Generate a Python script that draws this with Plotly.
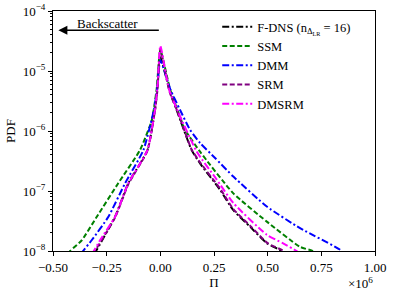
import plotly.graph_objects as go

# Pi values in units of 1e6, PDF values
PI_DNS = [-0.31, -0.30, -0.211, -0.149, -0.06, -0.025, -0.015, 0.0, 0.045, 0.076, 0.146, 0.185, 0.278, 0.34, 0.42, 0.496, 0.565, 0.575]
PDF_DNS = [9.0e-9, 1.0e-8, 3.72e-8, 1.35e-7, 4.79e-7, 2.24e-6, 4.79e-6, 1.70e-5, 4.47e-6, 2.24e-6, 4.79e-7, 2.88e-7, 1.05e-7, 4.79e-8, 2.5e-8, 1.35e-8, 1.0e-8, 9.0e-9]

PI_SSM = [-0.43, -0.42, -0.366, -0.296, -0.196, -0.095, -0.04, -0.017, 0.0, 0.045, 0.09, 0.115, 0.185, 0.34, 0.496, 0.651, 0.71, 0.72]
PDF_SSM = [9.0e-9, 1.0e-8, 1.51e-8, 3.72e-8, 1.35e-7, 4.79e-7, 1.51e-6, 5.01e-6, 2.24e-5, 5.01e-6, 1.78e-6, 1.05e-6, 4.52e-7, 9.12e-8, 3.09e-8, 1.17e-8, 1.0e-8, 9.0e-9]

PI_DMM = [-0.37, -0.36, -0.32, -0.242, -0.164, -0.079, -0.03, -0.015, 0.0, 0.048, 0.092, 0.138, 0.185, 0.255, 0.34, 0.496, 0.651, 0.837, 0.85]
PDF_DMM = [9.0e-9, 1.0e-8, 1.51e-8, 3.72e-8, 1.35e-7, 4.79e-7, 2.24e-6, 5.01e-6, 1.51e-5, 4.79e-6, 2.24e-6, 1.05e-6, 6.31e-7, 3.55e-7, 1.74e-7, 5.5e-8, 2.4e-8, 1.05e-8, 9.0e-9]

PI_SRM = [-0.315, -0.305, -0.211, -0.149, -0.06, -0.025, -0.013, 0.0, 0.043, 0.078, 0.146, 0.185, 0.278, 0.34, 0.42, 0.50, 0.575, 0.585]
PDF_SRM = [9.0e-9, 1.0e-8, 3.6e-8, 1.3e-7, 4.7e-7, 2.2e-6, 5.0e-6, 2.3e-5, 4.5e-6, 2.2e-6, 4.9e-7, 3.0e-7, 1.1e-7, 5.0e-8, 2.6e-8, 1.35e-8, 1.0e-8, 9.0e-9]

PI_DMSRM = [-0.32, -0.31, -0.281, -0.211, -0.149, -0.06, -0.025, -0.012, 0.0, 0.04, 0.085, 0.17, 0.26, 0.34, 0.496, 0.57, 0.635, 0.645]
PDF_DMSRM = [9.0e-9, 1.0e-8, 1.51e-8, 3.72e-8, 1.35e-7, 4.79e-7, 2.24e-6, 6.31e-6, 2.63e-5, 5.01e-6, 2.0e-6, 4.5e-7, 1.6e-7, 6.31e-8, 1.86e-8, 1.35e-8, 1.0e-8, 9.0e-9]

X_TICKS = [-0.5, -0.25, 0.0, 0.25, 0.5, 0.75, 1.0]
X_TICKTEXT = ["\u22120.50", "\u22120.25", "0.00", "0.25", "0.50", "0.75", "1.00"]
Y_TICKS = [1e-8, 1e-7, 1e-6, 1e-5, 1e-4]
Y_TICKTEXT = ["10<sup>\u22128</sup>", "10<sup>\u22127</sup>", "10<sup>\u22126</sup>", "10<sup>\u22125</sup>", "10<sup>\u22124</sup>"]
Y_MINOR = [m * 10.0 ** e for e in range(-8, -4) for m in range(2, 10)]

DASHDOT = "7px,2.5px,2px,2.5px"
DASHED = "5px,2.5px"

series = [
    ("F-DNS (n<sub>\u0394<sub>LR</sub></sub> = 16)", PI_DNS, PDF_DNS, "black", DASHDOT),
    ("SSM", PI_SSM, PDF_SSM, "#008000", DASHED),
    ("DMM", PI_DMM, PDF_DMM, "#0000ff", DASHDOT),
    ("SRM", PI_SRM, PDF_SRM, "#800080", DASHED),
    ("DMSRM", PI_DMSRM, PDF_DMSRM, "#ff00ff", DASHDOT),
]

fig = go.Figure()
for name, xs, ys, col, dash in series:
    fig.add_trace(go.Scatter(x=xs, y=ys, mode="lines", name=name,
                             line=dict(color=col, width=2, dash=dash,
                                       shape="spline", smoothing=0.5)))

FONT = "Liberation Serif"
FS = 13
fig.update_layout(
    width=393, height=291,
    margin=dict(l=53, r=18, t=11, b=40),
    paper_bgcolor="white", plot_bgcolor="white",
    font=dict(family=FONT, size=FS, color="black"),
    showlegend=True,
    legend=dict(x=0.51, y=0.995, xanchor="left", yanchor="top",
                bgcolor="rgba(255,255,255,0)", borderwidth=0,
                font=dict(family=FONT, size=12.5), itemwidth=30,
                tracegroupgap=0),
    xaxis=dict(range=[-0.5, 1.0], tickvals=X_TICKS, ticktext=X_TICKTEXT,
               automargin=False,
               showgrid=False, zeroline=False, showline=True, linecolor="black",
               linewidth=1, mirror=True, ticks="outside", ticklen=4,
               tickcolor="black", tickfont=dict(size=FS),
               title=dict(text="\u03a0", standoff=0, font=dict(size=FS))),
    yaxis=dict(type="log", range=[-8, -4], tickvals=Y_TICKS, ticktext=Y_TICKTEXT,
               automargin=False,
               showgrid=False, zeroline=False, showline=True, linecolor="black",
               linewidth=1, mirror=True, ticks="outside", ticklen=4,
               tickcolor="black", tickfont=dict(size=FS),
               minor=dict(tickvals=Y_MINOR, ticks="outside", ticklen=2,
                          tickcolor="black", showgrid=False),
               title=dict(text="PDF", standoff=4, font=dict(size=FS))),
)

fig.add_annotation(x=-0.475, y=-4.32, ax=0.0, ay=-4.32,
                   xref="x", yref="y", axref="x", ayref="y",
                   text="", showarrow=True, arrowhead=2, arrowsize=1.2,
                   arrowwidth=1.5, arrowcolor="black")
fig.add_annotation(x=-0.248, y=-4.2, xref="x", yref="y", text="Backscatter",
                   showarrow=False, font=dict(size=FS))
fig.add_annotation(x=1.0, y=-0.135, xref="paper", yref="paper",
                   xanchor="right", yanchor="middle",
                   text="\u00d710<sup>6</sup>", showarrow=False, font=dict(size=FS))

fig.write_html("out.html", config={"displayModeBar": False},
               post_script="document.body.style.margin='0';document.body.style.padding='0';")
